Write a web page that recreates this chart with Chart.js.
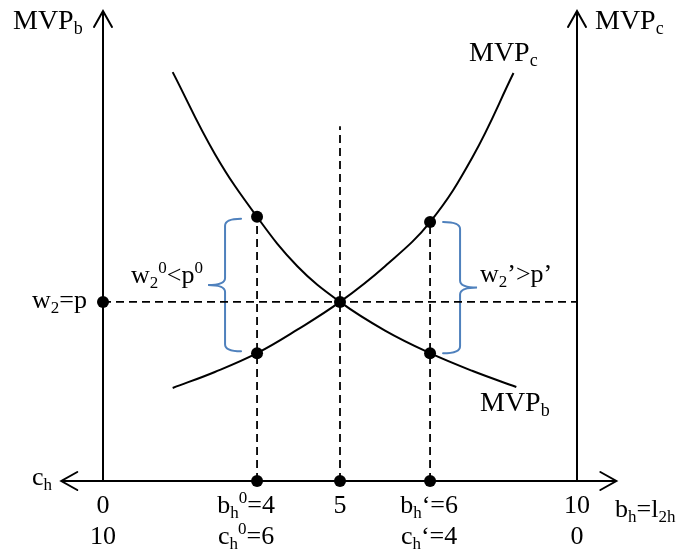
<!DOCTYPE html>
<html lang="en">
<head>
<meta charset="UTF-8" />
<title>MVP diagram</title>
<script src="https://cdn.jsdelivr.net/npm/chart.js@4"></script>
<style>
    * { padding: 0; margin: 0; box-sizing: border-box; }
    body { background: #fff; }
    .chart-container { width: 683px; height: 555px; }
</style>
</head>
<body>
<div class="chart-container"><canvas id="mvpChart"></canvas></div>
<script>
// ---- data ----
const tickX = [0, 3.25, 5, 6.9, 10];
const bhLabels = ["0", "b_{h}^{0}=4", "5", "b_{h}‘=6", "10"];
const chLabels = ["10", "c_{h}^{0}=6", "", "c_{h}‘=4", "0"];

const mvpbX = [1.47, 2.36, 3.25, 4.1, 5.0, 5.95, 6.9, 7.8, 8.72];
const mvpbY = [8.70, 6.96, 5.62, 4.57, 3.81, 3.20, 2.72, 2.34, 2.0];
const mvpcX = [1.47, 2.36, 3.25, 4.1, 5.0, 5.95, 6.9, 7.8, 8.66];
const mvpcY = [1.98, 2.32, 2.72, 3.22, 3.81, 4.57, 5.51, 6.90, 8.68];

const wage = 3.81;                 // w2 = p
const dropX = [3.25, 5, 6.9];      // vertical dashed lines
const dropTop = [5.62, 7.55, 5.51];
const dotX = [0, 3.25, 3.25, 5, 6.9, 6.9, 3.25, 5, 6.9];
const dotY = [3.81, 5.62, 2.72, 3.81, 5.51, 2.72, 0, 0, 0];
const xAxisEnds = [-0.88, 10.83];
const yAxisTop = 10;

const FONT = '"Liberation Serif", "Times New Roman", serif';
const BLUE = "#4f81bd";

function pts(xs, ys) { return xs.map((x, i) => ({ x: x, y: ys[i] })); }

function parseRich(s) {
    const parts = [];
    const re = /([_^])\{([^}]*)\}|([^_^]+)/g;
    let m;
    while ((m = re.exec(s)) !== null) {
        if (m[3]) parts.push({ t: m[3], k: "" });
        else parts.push({ t: m[2], k: m[1] });
    }
    return parts;
}

function drawRich(ctx, s, x, y, size, align) {
    const parts = parseRich(s);
    const small = Math.round(size * 0.64);
    let w = 0;
    parts.forEach(p => {
        ctx.font = (p.k ? small : size) + "px " + FONT;
        p.w = ctx.measureText(p.t).width;
        w += p.w;
    });
    let cx = align === "center" ? x - w / 2 : align === "right" ? x - w : x;
    ctx.textAlign = "left";
    ctx.textBaseline = "alphabetic";
    parts.forEach(p => {
        ctx.font = (p.k ? small : size) + "px " + FONT;
        let dy = p.k === "_" ? size * 0.18 : p.k === "^" ? -size * 0.38 : 0;
        ctx.fillText(p.t, cx, y + dy);
        cx += p.w;
    });
}

function brace(ctx, xTip, xSpine, xPoint, yTop, yBot) {
    const ym = (yTop + yBot) / 2;
    const r = 7;
    ctx.beginPath();
    ctx.moveTo(xTip, yTop);
    ctx.quadraticCurveTo(xSpine, yTop, xSpine, yTop + r);
    ctx.lineTo(xSpine, ym - r);
    ctx.quadraticCurveTo(xSpine, ym, xPoint, ym);
    ctx.quadraticCurveTo(xSpine, ym, xSpine, ym + r);
    ctx.lineTo(xSpine, yBot - r);
    ctx.quadraticCurveTo(xSpine, yBot, xTip, yBot);
    ctx.stroke();
}

const diagramPlugin = {
    id: "diagram",
    beforeDatasetsDraw(chart) {
        const ctx = chart.ctx;
        const xs = chart.scales.x, ys = chart.scales.y;
        const X = v => xs.getPixelForValue(v), Y = v => ys.getPixelForValue(v);
        ctx.save();
        ctx.strokeStyle = "#000";
        ctx.lineWidth = 2;
        ctx.lineCap = "round";
        // axes
        ctx.beginPath();
        ctx.moveTo(X(xAxisEnds[0]), Y(0));
        ctx.lineTo(X(xAxisEnds[1]), Y(0));
        ctx.moveTo(X(0), Y(0));
        ctx.lineTo(X(0), Y(yAxisTop));
        ctx.moveTo(X(10), Y(0));
        ctx.lineTo(X(10), Y(yAxisTop));
        // arrow heads
        const a = 16, b = 9;
        [[X(0), Y(yAxisTop)], [X(10), Y(yAxisTop)]].forEach(([px, py]) => {
            ctx.moveTo(px - b, py + a); ctx.lineTo(px, py); ctx.lineTo(px + b, py + a);
        });
        let lx = X(xAxisEnds[0]), rx = X(xAxisEnds[1]), ay = Y(0);
        ctx.moveTo(lx + a, ay - b); ctx.lineTo(lx, ay); ctx.lineTo(lx + a, ay + b);
        ctx.moveTo(rx - a, ay - b); ctx.lineTo(rx, ay); ctx.lineTo(rx - a, ay + b);
        ctx.stroke();

        // braces
        ctx.strokeStyle = BLUE;
        ctx.lineWidth = 2;
        brace(ctx, X(dotX[1]) - 16, X(dotX[1]) - 32, X(dotX[1]) - 49, Y(dotY[1]) + 2, Y(dotY[2]) - 2);
        brace(ctx, X(dotX[4]) + 13, X(dotX[4]) + 30, X(dotX[4]) + 47, Y(dotY[4]), Y(dotY[5]));

        // text
        ctx.fillStyle = "#000";
        drawRich(ctx, "MVP_{b}", 13, 29, 28, "left");
        drawRich(ctx, "MVP_{c}", 595, 29, 28, "left");
        drawRich(ctx, "MVP_{c}", 469, 61, 28, "left");
        drawRich(ctx, "MVP_{b}", 480, 411, 28, "left");
        drawRich(ctx, "w_{2}=p", 87, Y(wage) + 6, 26, "right");
        drawRich(ctx, "w_{2}^{0}<p^{0}", 131, 283, 26, "left");
        drawRich(ctx, "w_{2}’>p’", 480, 282, 26, "left");
        drawRich(ctx, "c_{h}", 32, Y(0) + 4, 26, "left");
        drawRich(ctx, "b_{h}=l_{2h}", 615, Y(0) + 36, 26, "left");
        const shift = [0, -11, 0, -1, 0];
        tickX.forEach((v, i) => {
            drawRich(ctx, bhLabels[i], X(v) + shift[i], Y(0) + 32, 26, "center");
            if (chLabels[i]) drawRich(ctx, chLabels[i], X(v) + shift[i], Y(0) + 63, 26, "center");
        });
        ctx.restore();
    }
};

const dashStyle = { borderColor: "#000", borderWidth: 1.8, borderDash: [8, 5], pointRadius: 0, showLine: true, fill: false };
const curveStyle = { borderColor: "#000", borderWidth: 2, pointRadius: 0, showLine: true, fill: false, tension: 0.4 };

const datasets = [
    Object.assign({ label: "MVPb", data: pts(mvpbX, mvpbY) }, curveStyle),
    Object.assign({ label: "MVPc", data: pts(mvpcX, mvpcY) }, curveStyle),
    Object.assign({ label: "wage", data: [{ x: 0, y: wage }, { x: 10, y: wage }] }, dashStyle),
];
dropX.forEach((v, i) => {
    datasets.push(Object.assign({ label: "drop" + i, data: [{ x: v, y: 0 }, { x: v, y: dropTop[i] }] }, dashStyle));
});
datasets.push({
    label: "dots", data: pts(dotX, dotY), showLine: false,
    pointRadius: 6, pointBackgroundColor: "#000", pointBorderColor: "#000", pointBorderWidth: 0
});

new Chart(document.getElementById("mvpChart"), {
    type: "scatter",
    data: { datasets: datasets },
    options: {
        responsive: true,
        maintainAspectRatio: false,
        animation: false,
        clip: false,
        layout: { padding: { left: 103, right: 106, top: 11, bottom: 74 } },
        plugins: { legend: { display: false }, tooltip: { enabled: false } },
        scales: {
            x: { type: "linear", min: 0, max: 10, display: false },
            y: { type: "linear", min: 0, max: 10, display: false }
        }
    },
    plugins: [diagramPlugin]
});
</script>
</body>
</html>
